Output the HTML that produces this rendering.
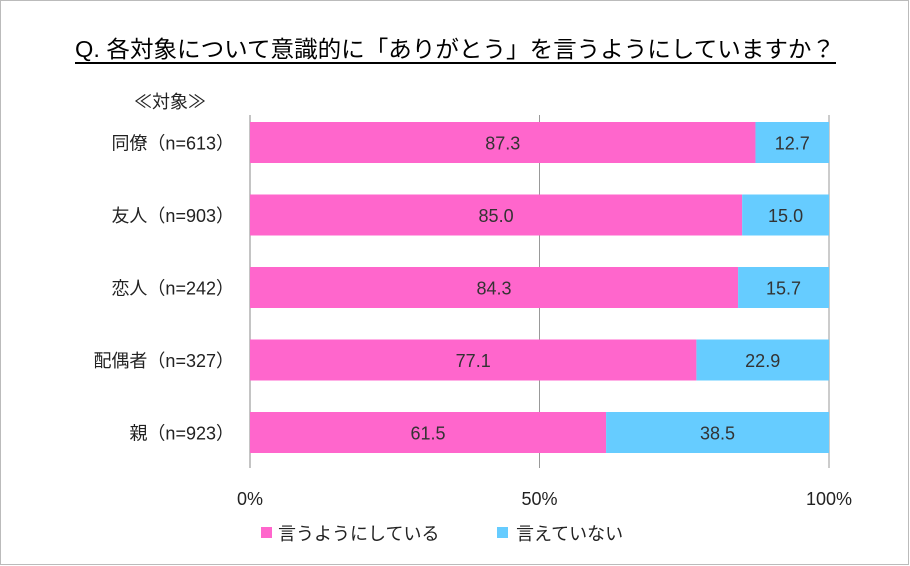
<!DOCTYPE html>
<html><head><meta charset="utf-8"><style>
body{margin:0;background:#fff}
svg{display:block;font-family:"Liberation Sans","Noto Sans CJK JP",sans-serif}
</style></head><body>
<svg id="c" width="910" height="566" viewBox="0 0 910 566">
<rect x="0.5" y="0.5" width="908" height="564" fill="#fff" stroke="#bbb"/>
<text x="75" y="57" font-size="23" fill="#000" textLength="760" lengthAdjust="spacingAndGlyphs">Q. 各対象について意識的に「ありがとう」を言うようにしていますか？</text>
<line x1="75" y1="63" x2="836" y2="63" stroke="#000" stroke-width="2"/>
<text x="170" y="108" font-size="18" text-anchor="middle" fill="#222">≪対象≫</text>
<g id="plot"></g>
<g>
<rect x="261" y="527" width="11" height="11" fill="#ff66cc"/>
<text x="278" y="540" font-size="18" fill="#222">言うようにしている</text>
<rect x="497" y="527" width="11" height="11" fill="#66ccff"/>
<text x="516" y="540" font-size="18" fill="#222">言えていない</text>
</g>
</svg>
<script>
const categories=["同僚（n=613）","友人（n=903）","恋人（n=242）","配偶者（n=327）","親（n=923）"];
const saySeries=[87.3,85.0,84.3,77.1,61.5];
const cannotSeries=[12.7,15.0,15.7,22.9,38.5];
const tickValues=[0,50,100];
const tickLabels=["0%","50%","100%"];
const NS="http://www.w3.org/2000/svg";
const g=document.getElementById('plot');
const x0=250,x1=829,yTop=115,yBot=468,rowStep=72.5,rowStart=122,barH=41;
const xs=v=>x0+(x1-x0)*v/100;
const yr=i=>rowStart+i*rowStep;
function mk(t,a){const e=document.createElementNS(NS,t);for(const k in a)e.setAttribute(k,a[k]);g.appendChild(e);return e;}
tickValues.forEach((v,i)=>{
 const l=mk('line',{x1:xs(v),x2:xs(v),y1:yTop,y2:yBot,stroke:i==0?'#888':'#999','stroke-width':1});
 
 
 const t=mk('text',{x:xs(v),y:505,'font-size':18,'text-anchor':'middle',fill:'#222'});
 t.textContent=tickLabels[i];
 
 
});
categories.forEach((c,i)=>{
 const y=yr(i);
 const lab=mk('text',{x:234,y:y+barH/2+7,'font-size':18,'text-anchor':'end',fill:'#222'});
 lab.textContent=c;
 
 
 const a=saySeries[i],b=cannotSeries[i];
 const r1=mk('rect',{x:xs(0),y:y,width:xs(a)-xs(0),height:barH,fill:'#ff66cc'});
 
 
 const r2=mk('rect',{x:xs(a),y:y,width:xs(a+b)-xs(a),height:barH,fill:'#66ccff'});
 
 
 const t1=mk('text',{x:(xs(0)+xs(a))/2,y:y+barH/2+7,'font-size':18,'text-anchor':'middle',fill:'#333'});
 t1.textContent=a.toFixed(1);
 
 
 const t2=mk('text',{x:(xs(a)+xs(a+b))/2,y:y+barH/2+7,'font-size':18,'text-anchor':'middle',fill:'#333'});
 t2.textContent=b.toFixed(1);
 
 
});
</script>
</body></html>
